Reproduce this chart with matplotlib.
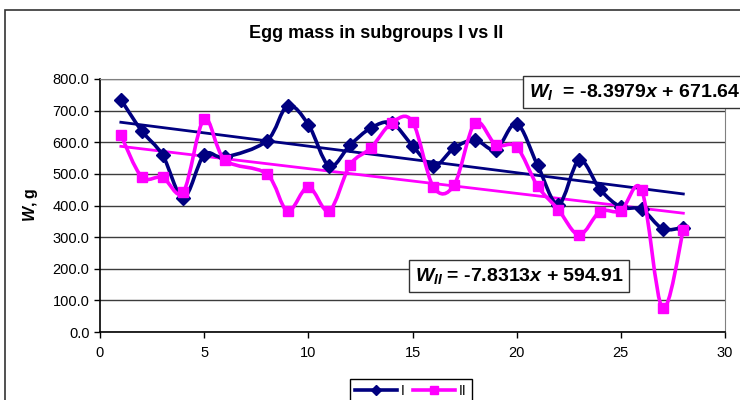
import numpy as np
import matplotlib
matplotlib.use("Agg")
import matplotlib.pyplot as plt
from matplotlib.path import Path
from matplotlib.patches import PathPatch, Rectangle
from matplotlib.lines import Line2D

plt.rcParams['font.family'] = ['Liberation Sans', 'DejaVu Sans']
plt.rcParams['mathtext.fontset'] = 'custom'
plt.rcParams['mathtext.rm'] = 'Liberation Sans'
plt.rcParams['mathtext.it'] = 'Liberation Sans:italic'
plt.rcParams['mathtext.bf'] = 'Liberation Sans:bold'
try:
    plt.rcParams['mathtext.bfit'] = 'Liberation Sans:italic:bold'
except KeyError:
    pass

# -----------------------------
# Data
# -----------------------------
day = [1, 2, 3, 4, 5, 6, 8, 9, 10, 11, 12, 13, 14, 15, 16, 17, 18, 19, 20,
       21, 22, 23, 24, 25, 26, 27, 28]
mass_I = [735, 636, 560, 425, 560, 553, 604, 715, 656, 525, 591, 645, 661,
          589, 524, 582, 607, 577, 659, 528, 403, 543, 451, 395, 388, 327, 330]
mass_II = [623, 491, 489, 443, 673, 544, 500, 383, 459, 383, 528, 582, 661,
           665, 459, 465, 661, 592, 585, 462, 387, 307, 381, 383, 449, 75, 323]

# linear trends as printed on the chart
slope_I, icept_I = -8.3979, 671.64
slope_II, icept_II = -7.8313, 594.91

series_names = ['I', 'II']
navy = '#000080'
magenta = '#FF00FF'


def smooth_path(xs, ys):
    # Bezier segments through the points (like a spreadsheet "smoothed line")
    p = np.column_stack([xs, ys]).astype(float)
    p = np.vstack([p[0], p, p[-1]])
    verts = [p[1]]
    codes = [Path.MOVETO]
    for i in range(1, len(p) - 2):
        c1 = p[i] + (p[i + 1] - p[i - 1]) / 6.0
        c2 = p[i + 1] - (p[i + 2] - p[i]) / 6.0
        verts += [c1, c2, p[i + 1]]
        codes += [Path.CURVE4] * 3
    return Path(verts, codes)


# -----------------------------
# Plot setup
# -----------------------------
fig = plt.figure(figsize=(7.4, 4.0), dpi=100)
ax = fig.add_axes([100 / 740, 1 - 332 / 400, 625 / 740, 253 / 400])

# outer chart frame (cropped at right and bottom like the original)
fig.patches.append(Rectangle((5 / 740, -0.1), 1.0, 1 - 10 / 400 + 0.1,
                             transform=fig.transFigure, fill=False,
                             edgecolor='#333333', lw=1.2))

# trend lines
tx = np.array([day[0], day[-1]])
ax.plot(tx, slope_I * tx + icept_I, color=navy, lw=2, zorder=3)
ax.plot(tx, slope_II * tx + icept_II, color=magenta, lw=2, zorder=3)

# series
ax.add_patch(PathPatch(smooth_path(day, mass_I), fill=False, edgecolor=navy,
                       lw=2.6, zorder=4, capstyle='round', joinstyle='round'))
ax.plot(day, mass_I, ls='none', marker='D', ms=7, color=navy, zorder=5)
ax.add_patch(PathPatch(smooth_path(day, mass_II), fill=False, edgecolor=magenta,
                       lw=2.6, zorder=6, capstyle='round', joinstyle='round'))
ax.plot(day, mass_II, ls='none', marker='s', ms=7.5, color=magenta, zorder=7)

# -----------------------------
# Formatting
# -----------------------------
ax.set_xlim(0, 30)
ax.set_ylim(0, 800)
ax.set_xticks(np.arange(0, 31, 5))
ax.set_yticks(np.arange(0, 801, 100))
ax.set_yticklabels([f"{v:.1f}" for v in np.arange(0, 801, 100)])
ax.tick_params(labelsize=10.5, direction='out', length=4, width=1, color='black')
ax.tick_params(axis='x', pad=6)
ax.yaxis.grid(True, color='#3c3c3c', lw=1)
ax.set_axisbelow(True)
for s in ['top', 'right']:
    ax.spines[s].set_color('#808080')
for s in ['left', 'bottom']:
    ax.spines[s].set_color('black')
    ax.spines[s].set_linewidth(1.2)

fig.text(376 / 740, 1 - 33 / 400, "Egg mass in subgroups I vs II",
         ha='center', va='center', fontsize=13, fontweight='bold')
fig.text(30 / 740, 1 - 205 / 400, r"$\mathbfit{W}$, g", rotation=90,
         ha='center', va='center', fontsize=11.5, fontweight='bold')

box = dict(boxstyle='square,pad=0.3', facecolor='white', edgecolor='#333333', lw=1)
fig.text(529 / 740, 1 - 92 / 400,
         r"$\mathbfit{W}_{\mathbfit{I}}$  = -8.3979$\mathbfit{x}$ + 671.64",
         ha='left', va='center', fontsize=14, fontweight='bold', bbox=box,
         zorder=10)
fig.text(415 / 740, 1 - 276 / 400,
         r"$\mathbfit{W}_{\mathbfit{II}}$ = -7.8313$\mathbfit{x}$ + 594.91",
         ha='left', va='center', fontsize=14, fontweight='bold', bbox=box,
         zorder=10)

handles = [Line2D([], [], color=navy, lw=2.6, marker='D', ms=5),
           Line2D([], [], color=magenta, lw=2.6, marker='s', ms=5.5)]
fig.legend(handles, series_names, loc='upper center',
           bbox_to_anchor=(411 / 740, 1 - 372 / 400), ncol=2, fontsize=10,
           frameon=True, fancybox=False, edgecolor='black', framealpha=1,
           handlelength=3, columnspacing=0.6, handletextpad=0.3,
           borderpad=0.35)

fig.savefig("out.png", dpi=100)
